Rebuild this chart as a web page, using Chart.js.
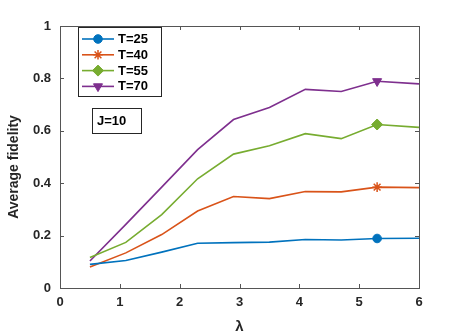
<!DOCTYPE html>
<html>
<head>
<meta charset="utf-8">
<script src="https://cdn.jsdelivr.net/npm/chart.js@4.4.1/dist/chart.umd.min.js"></script>
<style>
    body { margin: 0; background: #fff; }
    canvas { display: block; }
</style>
</head>
<body>
<canvas id="fidelity" width="463" height="333"></canvas>
<script>
// lambda values (x axis)
const lambdas = [0.5, 1.1, 1.7, 2.3, 2.9, 3.5, 4.1, 4.7, 5.3, 6];
const seriesLabels = ['T=25', 'T=40', 'T=55', 'T=70'];
const fidelityT25 = [0.090, 0.105, 0.137, 0.171, 0.173, 0.175, 0.185, 0.183, 0.189, 0.190];
const fidelityT40 = [0.080, 0.134, 0.204, 0.294, 0.349, 0.341, 0.368, 0.367, 0.385, 0.383];
const fidelityT55 = [0.116, 0.174, 0.280, 0.417, 0.511, 0.543, 0.589, 0.570, 0.624, 0.613];
const fidelityT70 = [0.103, 0.243, 0.385, 0.528, 0.643, 0.689, 0.758, 0.750, 0.789, 0.779];
const xTicks = [0, 1, 2, 3, 4, 5, 6];
const yTicks = [0, 0.2, 0.4, 0.6, 0.8, 1];
const markerIndex = 8; // marker only drawn at lambda = 5.3

const FONT = "'Liberation Sans', Arial, Helvetica, sans-serif";
const AXIS_COLOR = '#555';

function toPoints(values) {
    return values.map((v, i) => ({ x: lambdas[i], y: v }));
}

function markerRadii(r) {
    return lambdas.map((_, i) => i === markerIndex ? r : 0);
}

function makeDataset(label, values, color, style, radius, rotation) {
    const filled = style !== 'star';
    return {
        label: label,
        data: toPoints(values),
        borderColor: color,
        backgroundColor: filled ? color : 'transparent',
        pointBorderColor: color,
        pointBackgroundColor: color,
        borderWidth: 1.6,
        pointStyle: style,
        pointRotation: rotation || 0,
        pointRadius: markerRadii(radius),
        pointHoverRadius: markerRadii(radius),
        pointBorderWidth: style === 'star' ? 1.5 : 1,
        tension: 0
    };
}

const datasets = [
    makeDataset(seriesLabels[0], fidelityT25, '#0072BD', 'circle', 4.3),
    makeDataset(seriesLabels[1], fidelityT40, '#D95319', 'star', 4.8),
    makeDataset(seriesLabels[2], fidelityT55, '#77AC30', 'rectRot', 5.5),
    makeDataset(seriesLabels[3], fidelityT70, '#7E2F8E', 'triangle', 5.2, 180)
];

// frame with inward ticks on all four sides, MATLAB "box on" look
const boxPlugin = {
    id: 'boxFrame',
    afterDatasetsDraw(chart) {
        const { ctx, chartArea: a, scales } = chart;
        const tl = 4;
        ctx.save();
        ctx.strokeStyle = AXIS_COLOR;
        ctx.lineWidth = 1;
        ctx.strokeRect(Math.round(a.left) + 0.5, Math.round(a.top) + 0.5,
            Math.round(a.right - a.left), Math.round(a.bottom - a.top));
        ctx.beginPath();
        xTicks.forEach(t => {
            const px = Math.round(scales.x.getPixelForValue(t)) + 0.5;
            ctx.moveTo(px, a.bottom); ctx.lineTo(px, a.bottom - tl);
            ctx.moveTo(px, a.top); ctx.lineTo(px, a.top + tl);
        });
        yTicks.forEach(t => {
            const py = Math.round(scales.y.getPixelForValue(t)) + 0.5;
            ctx.moveTo(a.left, py); ctx.lineTo(a.left + tl, py);
            ctx.moveTo(a.right, py); ctx.lineTo(a.right - tl, py);
        });
        ctx.stroke();

        // y title, placed a bit below the axis centre as in the reference
        ctx.fillStyle = '#262626';
        ctx.font = 'bold 14px ' + FONT;
        ctx.textAlign = 'center';
        ctx.textBaseline = 'middle';
        ctx.translate(14, 167);
        ctx.rotate(-Math.PI / 2);
        ctx.fillText('Average fidelity', 0, 0);
        ctx.restore();
    }
};

// legend box and the J=10 note inside the plot
const legendPlugin = {
    id: 'insideLegend',
    afterDraw(chart) {
        const ctx = chart.ctx;
        ctx.save();
        ctx.fillStyle = '#fff';
        ctx.strokeStyle = '#262626';
        ctx.lineWidth = 1;
        ctx.fillRect(78, 27, 83, 69);
        ctx.strokeRect(78.5, 27.5, 83, 69);

        ctx.font = 'bold 13px ' + FONT;
        ctx.textBaseline = 'middle';
        ctx.textAlign = 'left';
        chart.data.datasets.forEach((ds, i) => {
            const y = 39 + i * 15.8;
            ctx.strokeStyle = ds.borderColor;
            ctx.lineWidth = 1.6;
            ctx.beginPath();
            ctx.moveTo(82, y);
            ctx.lineTo(114, y);
            ctx.stroke();
            ctx.fillStyle = ds.pointBackgroundColor;
            ctx.strokeStyle = ds.pointBorderColor;
            ctx.lineWidth = ds.pointBorderWidth;
            const opts = {
                pointStyle: ds.pointStyle,
                radius: ds.pointRadius[markerIndex],
                rotation: ds.pointRotation,
                borderWidth: ds.pointBorderWidth
            };
            if (Chart.helpers && Chart.helpers.drawPoint) {
                Chart.helpers.drawPoint(ctx, opts, 98, y);
            }
            ctx.fillStyle = '#000';
            ctx.fillText(ds.label, 118, y + 0.5);
        });

        ctx.fillStyle = '#fff';
        ctx.strokeStyle = '#262626';
        ctx.lineWidth = 1;
        ctx.fillRect(92, 108, 49, 25);
        ctx.strokeRect(92.5, 108.5, 49, 25);
        ctx.fillStyle = '#000';
        ctx.fillText('J=10', 97, 121);
        ctx.restore();
    }
};

const ctx = document.getElementById('fidelity').getContext('2d');
new Chart(ctx, {
    type: 'line',
    data: { datasets: datasets },
    options: {
        responsive: false,
        animation: false,
        devicePixelRatio: 1,
        layout: { padding: { top: 26, right: 44, left: 0, bottom: 0 } },
        plugins: {
            legend: { display: false },
            tooltip: { enabled: false }
        },
        scales: {
            x: {
                type: 'linear',
                min: 0,
                max: 6,
                afterFit(scale) { scale.height = 45; },
                afterBuildTicks(scale) { scale.ticks = xTicks.map(v => ({ value: v })); },
                grid: { display: false, drawTicks: false },
                border: { display: false },
                ticks: {
                    padding: 7,
                    color: '#262626',
                    font: { family: FONT, size: 13, weight: 'bold' },
                    maxRotation: 0
                },
                title: {
                    display: true,
                    text: 'λ',
                    color: '#262626',
                    font: { family: FONT, size: 15, weight: 'bold', lineHeight: 0.8 },
                    padding: { top: 0, bottom: 0 }
                }
            },
            y: {
                min: 0,
                max: 1,
                afterFit(scale) { scale.width = 60; },
                afterBuildTicks(scale) { scale.ticks = yTicks.map(v => ({ value: v })); },
                grid: { display: false, drawTicks: false },
                border: { display: false },
                ticks: {
                    padding: 9,
                    color: '#262626',
                    font: { family: FONT, size: 13, weight: 'bold' },
                    callback: v => String(v)
                }
            }
        }
    },
    plugins: [boxPlugin, legendPlugin]
});
</script>
</body>
</html>
